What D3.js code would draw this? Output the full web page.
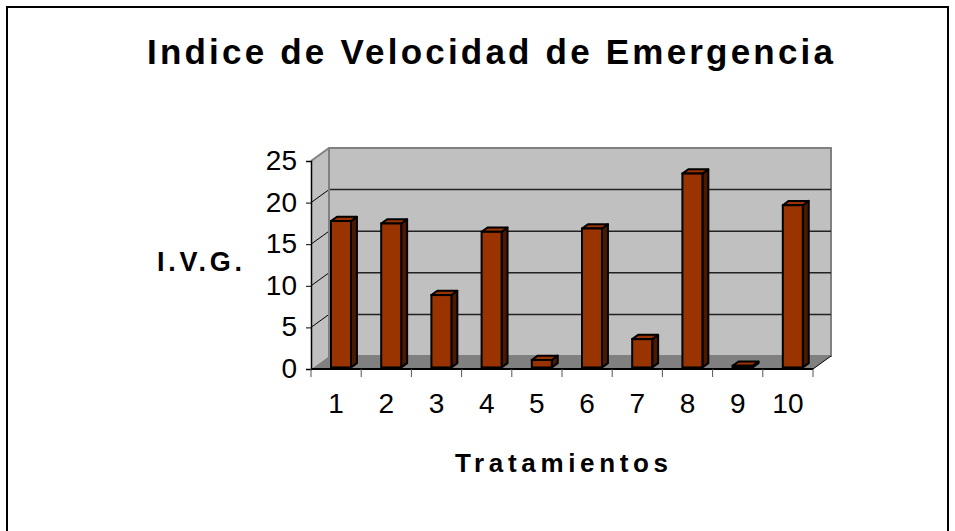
<!DOCTYPE html>
<html>
<head>
<meta charset="utf-8">
<script src="https://cdnjs.cloudflare.com/ajax/libs/d3/7.8.5/d3.min.js"></script>
<style>
  body { margin: 0; background: #fff; }
  text { font-family: "Liberation Sans", Arial, sans-serif; fill: #000; }
</style>
</head>
<body>
<div id="chart"></div>
<script>
var categories = ["1", "2", "3", "4", "5", "6", "7", "8", "9", "10"];
var ivg = [17.6, 17.3, 8.7, 16.3, 0.9, 16.7, 3.4, 23.3, 0.2, 19.5];
var yTicks = [0, 5, 10, 15, 20, 25];

(function() {
    var width = 955, height = 531;

    var svg = d3.select("#chart")
    .append("svg")
    .attr("width", width)
    .attr("height", height);

    // outer frame (bottom edge runs past the page)
    svg.append("rect")
    .attr("x", 7).attr("y", 7)
    .attr("width", 941).attr("height", 560)
    .attr("fill", "#fff")
    .attr("stroke", "#000")
    .attr("stroke-width", 2);

    var x = d3.scaleBand()
    .domain(categories)
    .range([311, 813]);

    var y = d3.scaleLinear()
    .domain([0, 25])
    .range([369, 161]);

    // depth of the 3d box
    var DX = 18, DY = -13;

    var x0 = x.range()[0], x1 = x.range()[1];
    var yb = y(0), yt = y(25);

    // floor
    svg.append("polygon")
    .attr("points", [[x0, yb], [x1, yb], [x1 + DX, yb + DY], [x0 + DX, yb + DY]].join(" "))
    .attr("fill", "#808080");

    // left wall
    svg.append("polygon")
    .attr("points", [[x0, yb], [x0, yt], [x0 + DX, yt + DY], [x0 + DX, yb + DY]].join(" "))
    .attr("fill", "#c0c0c0");

    // back wall
    svg.append("rect")
    .attr("x", x0 + DX).attr("y", yt + DY)
    .attr("width", x1 - x0).attr("height", yb - yt)
    .attr("fill", "#c0c0c0")
    .attr("stroke", "#808080")
    .attr("stroke-width", 2);

    // gridlines on back and side walls
    svg.selectAll(".grid")
    .data(yTicks.filter(function(d) { return d > 0 && d < 25; }))
    .enter().append("line")
    .attr("class", "grid")
    .attr("x1", x0 + DX).attr("x2", x1 + DX)
    .attr("y1", function(d) { return y(d) + DY; })
    .attr("y2", function(d) { return y(d) + DY; })
    .attr("stroke", "#222")
    .attr("stroke-width", 1.5);

    svg.selectAll(".side-grid")
    .data(yTicks.filter(function(d) { return d > 0; }))
    .enter().append("line")
    .attr("class", "side-grid")
    .attr("x1", x0).attr("x2", x0 + DX)
    .attr("y1", function(d) { return y(d); })
    .attr("y2", function(d) { return y(d) + DY; })
    .attr("stroke", function(d) { return d == 25 ? "#808080" : "#000"; })
    .attr("stroke-width", function(d) { return d == 25 ? 2 : 1; });

    // back wall left edge + floor right edge
    svg.append("line")
    .attr("x1", x0 + DX).attr("x2", x0 + DX)
    .attr("y1", yt + DY).attr("y2", yb + DY)
    .attr("stroke", "#808080").attr("stroke-width", 2);

    svg.append("line")
    .attr("x1", x1).attr("y1", yb)
    .attr("x2", x1 + DX).attr("y2", yb + DY)
    .attr("stroke", "#000").attr("stroke-width", 1);

    // bars
    var fz = 0.12, bz = 0.45;
    var bw = 20, off = 20;
    var fdy = DY * fz;
    var ddx = DX * (bz - fz), ddy = DY * (bz - fz);

    var bars = svg.selectAll(".bar")
    .data(ivg)
    .enter().append("g")
    .attr("class", "bar");

    function pts(a) { return a.join(" "); }

    bars.append("polygon")
    .attr("points", function(d, i) {
        var l = x(categories[i]) + off, r = l + bw;
        var top = y(d) + fdy, bot = y(0) + fdy;
        return pts([[r, top], [r + ddx, top + ddy], [r + ddx, bot + ddy], [r, bot]]);
    })
    .attr("fill", "#4c1900")
    .attr("stroke", "#000").attr("stroke-width", 2)
    .attr("stroke-linejoin", "round");

    bars.append("polygon")
    .attr("points", function(d, i) {
        var l = x(categories[i]) + off, r = l + bw;
        var top = y(d) + fdy;
        return pts([[l, top], [r, top], [r + ddx, top + ddy], [l + ddx, top + ddy]]);
    })
    .attr("fill", "#993300")
    .attr("stroke", "#000").attr("stroke-width", 2)
    .attr("stroke-linejoin", "round");

    bars.append("rect")
    .attr("x", function(d, i) { return x(categories[i]) + off; })
    .attr("y", function(d) { return y(d) + fdy; })
    .attr("width", bw)
    .attr("height", function(d) { return y(0) - y(d); })
    .attr("fill", "#993300")
    .attr("stroke", "#000").attr("stroke-width", 2);

    // axes
    var yAxis = d3.axisLeft(y)
    .tickValues(yTicks)
    .tickSize(5)
    .tickPadding(9);

    var gy = svg.append("g")
    .attr("transform", "translate(" + x0 + ",0)")
    .call(yAxis);
    gy.select(".domain").attr("stroke", "#000").attr("stroke-width", 1.5);
    gy.selectAll("text")
    .attr("font-size", 28)
    .attr("dy", "0.3em")
    .style("font-family", "Liberation Sans, Arial, sans-serif");

    var xAxis = d3.axisBottom(x)
    .tickSize(0)
    .tickPadding(0);

    var gx = svg.append("g")
    .attr("transform", "translate(0," + yb + ")")
    .call(xAxis);
    gx.select(".domain").remove();
    gx.selectAll("text")
    .attr("font-size", 28)
    .attr("y", 0)
    .attr("dy", 44)
    .style("font-family", "Liberation Sans, Arial, sans-serif");

    svg.append("line")
    .attr("x1", x0).attr("x2", x1)
    .attr("y1", yb).attr("y2", yb)
    .attr("stroke", "#000").attr("stroke-width", 2);

    svg.selectAll(".xtick")
    .data(categories.concat(["end"]))
    .enter().append("line")
    .attr("class", "xtick")
    .attr("x1", function(d, i) { return x0 + i * x.bandwidth(); })
    .attr("x2", function(d, i) { return x0 + i * x.bandwidth(); })
    .attr("y1", yb).attr("y2", yb + 8)
    .attr("stroke", "#555").attr("stroke-width", 1);

    // titles
    svg.append("text")
    .attr("x", 147).attr("y", 64)
    .attr("font-size", 35)
    .attr("font-weight", "bold")
    .attr("textLength", 686)
    .attr("lengthAdjust", "spacing")
    .text("Indice de Velocidad de Emergencia");

    svg.append("text")
    .attr("x", 157).attr("y", 271)
    .attr("font-size", 27)
    .attr("font-weight", "bold")
    .attr("textLength", 85)
    .attr("lengthAdjust", "spacing")
    .text("I.V.G.");

    svg.append("text")
    .attr("x", 455).attr("y", 472)
    .attr("font-size", 26)
    .attr("font-weight", "bold")
    .attr("textLength", 213)
    .attr("lengthAdjust", "spacing")
    .text("Tratamientos");
})();
</script>
</body>
</html>
